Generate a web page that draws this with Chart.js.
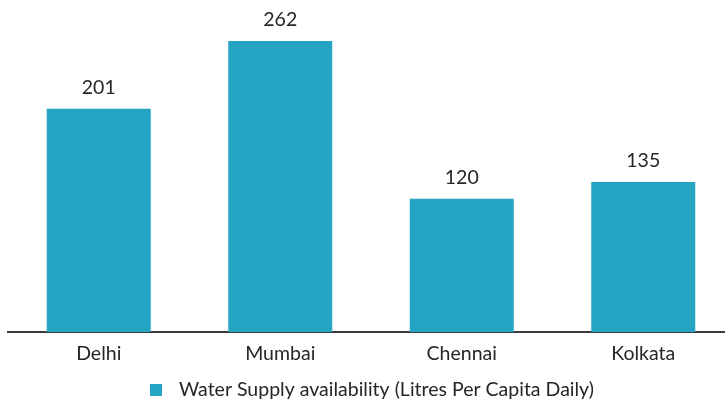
<!DOCTYPE html>
<html>
<head>
<meta charset="utf-8">
<script src="https://cdn.jsdelivr.net/npm/chart.js@4/dist/chart.umd.min.js"></script>
<style>
  html, body { margin: 0; padding: 0; background: #ffffff; overflow: hidden; }
  #wrap { position: relative; width: 734px; height: 399px; }
</style>
</head>
<body>
<div id="wrap"><canvas id="c" width="734" height="399"></canvas></div>
<script>
const cities = ['Delhi', 'Mumbai', 'Chennai', 'Kolkata'];
const supplyLpcd = [201, 262, 120, 135];
const seriesName = 'Water Supply availability (Litres Per Capita Daily)';

const BAR_COLOR = '#24a5c4';
const TEXT_COLOR = '#262626';
const FONT = 'Lato, "Open Sans", sans-serif';
const FONT_SIZE = 19.5;

// value labels above each bar
const valueLabels = {
  id: 'valueLabels',
  afterDatasetsDraw(chart) {
    const ctx = chart.ctx;
    const meta = chart.getDatasetMeta(0);
    ctx.save();
    ctx.font = FONT_SIZE + 'px ' + FONT;
    ctx.fillStyle = TEXT_COLOR;
    ctx.textAlign = 'center';
    ctx.textBaseline = 'alphabetic';
    meta.data.forEach((bar, i) => {
      ctx.fillText(String(chart.data.datasets[0].data[i]), bar.x, bar.y - 15);
    });
    ctx.restore();
  }
};

// single-entry legend below the axis
const bottomLegend = {
  id: 'bottomLegend',
  afterDraw(chart) {
    const ctx = chart.ctx;
    const ds = chart.data.datasets[0];
    ctx.save();
    ctx.fillStyle = ds.backgroundColor;
    ctx.fillRect(150, 384, 12, 12);
    ctx.font = FONT_SIZE + 'px ' + FONT;
    ctx.fillStyle = TEXT_COLOR;
    ctx.textAlign = 'left';
    ctx.textBaseline = 'alphabetic';
    ctx.fillText(ds.label, 179, 395.5);
    ctx.restore();
  }
};

new Chart(document.getElementById('c'), {
  type: 'bar',
  data: {
    labels: cities,
    datasets: [{
      label: seriesName,
      data: supplyLpcd,
      backgroundColor: BAR_COLOR,
      borderWidth: 0,
      barPercentage: 0.573,
      categoryPercentage: 1.0
    }]
  },
  options: {
    responsive: false,
    animation: false,
    layout: { padding: { left: 8, right: 0, top: 10, bottom: 0 } },
    plugins: {
      legend: { display: false },
      tooltip: { enabled: false }
    },
    scales: {
      x: {
        grid: { display: false },
        border: { display: true, color: '#3c3c3c', width: 2 },
        ticks: {
          color: TEXT_COLOR,
          font: { family: FONT, size: FONT_SIZE },
          padding: 2
        },
        afterFit(scale) { scale.height = 67; }
      },
      y: {
        display: false,
        min: 0,
        max: 290
      }
    }
  },
  plugins: [valueLabels, bottomLegend]
});
</script>
</body>
</html>
